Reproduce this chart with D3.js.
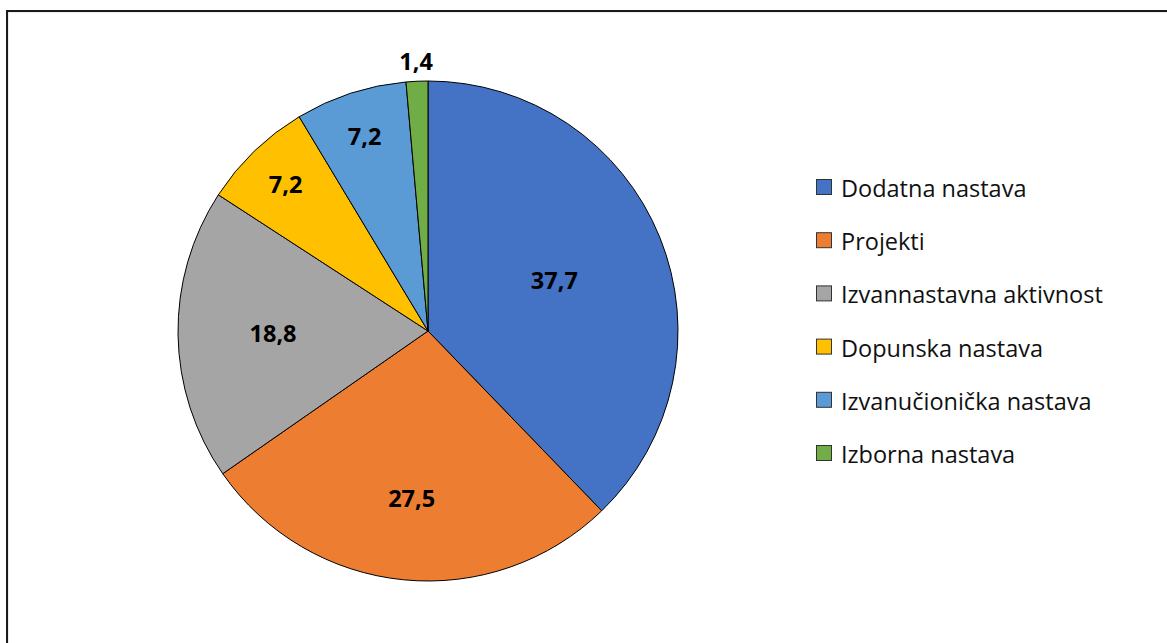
<!DOCTYPE html>
<html><head><meta charset="utf-8">
<script src="https://cdn.jsdelivr.net/npm/d3@7"></script>
<style>html,body{margin:0;padding:0;background:#fff;}svg{display:block;}</style>
</head><body>
<svg id="c" width="1167" height="643"></svg>
<script>
const categories = ["Dodatna nastava","Projekti","Izvannastavna aktivnost","Dopunska nastava","Izvanučionička nastava","Izborna nastava"];
const values = [37.7, 27.5, 18.8, 7.2, 7.2, 1.4];
const colors = ["#4472C4","#ED7D31","#A5A5A5","#FFC000","#5B9BD5","#70AD47"];

const svg = d3.select("#c");
// frame
svg.append("rect").attr("x",8).attr("y",12).attr("width",1200).attr("height",700)
  .attr("fill","none").attr("stroke","#d9d9d9").attr("stroke-width",1);
svg.append("rect").attr("x",7).attr("y",11).attr("width",1200).attr("height",700)
  .attr("fill","none").attr("stroke","#1a1a1a").attr("stroke-width",2);

const cx = 428, cy = 331, R = 250;
const g = svg.append("g").attr("transform",`translate(${cx},${cy})`);
const pie = d3.pie().sort(null).value(d=>d)(values);
const arc = d3.arc().innerRadius(0).outerRadius(R);
g.selectAll("path").data(pie).enter().append("path")
  .attr("d",arc).attr("fill",(d,i)=>colors[i])
  .attr("stroke","#000").attr("stroke-width",1).attr("stroke-linejoin","round");

function labelK(v){ return v>=30 ? 0.545 : v>=20 ? 0.67 : v>=15 ? 0.62 : v>=5 ? 0.82 : 1.08; }
g.selectAll("text.lbl").data(pie).enter().append("text")
  .attr("class","lbl")
  .attr("transform",d=>{const k=labelK(d.data)*R; const a=d3.arc().innerRadius(k).outerRadius(k); const c=a.centroid(d); return `translate(${c[0]},${c[1]})`;})
  .attr("text-anchor","middle").attr("dominant-baseline","central")
  .attr("font-family","'Open Sans', sans-serif").attr("font-weight","bold").attr("font-size",23.5)
  .attr("fill","#000")
  .text(d=>d3.format(".1f")(d.data).replace(".",","));

// legend
const ly = d3.scalePoint().domain(categories).range([187,453]);
const lg = svg.append("g");
const items = lg.selectAll("g").data(categories).enter().append("g")
  .attr("transform",d=>`translate(816,${ly(d)})`);
items.append("rect").attr("x",0.5).attr("y",-7.5).attr("width",15).attr("height",15)
  .attr("fill",(d,i)=>colors[i]).attr("stroke","#333").attr("stroke-width",1);
items.append("text").attr("x",25).attr("y",1).attr("dominant-baseline","central")
  .attr("font-family","'Open Sans', sans-serif").attr("font-size",23.5).attr("fill","#111")
  .text(d=>d);
</script>
</body></html>
